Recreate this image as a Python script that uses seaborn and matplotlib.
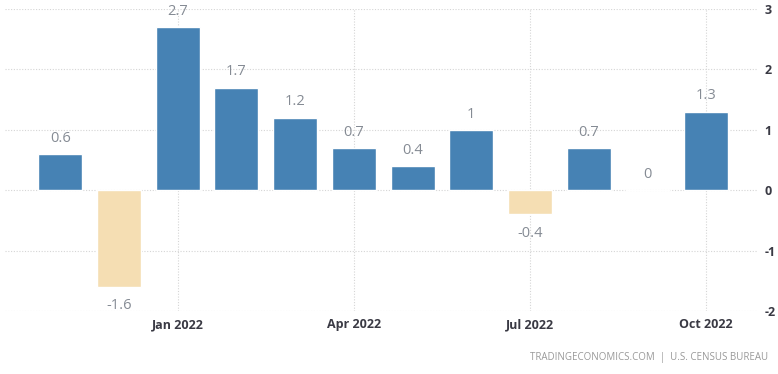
import pandas as pd
import matplotlib.pyplot as plt
import seaborn as sns

# === Monthly change, Nov 2021 - Oct 2022 ===
months = ["Nov 2021", "Dec 2021", "Jan 2022", "Feb 2022", "Mar 2022", "Apr 2022",
          "May 2022", "Jun 2022", "Jul 2022", "Aug 2022", "Sep 2022", "Oct 2022"]
values = [0.6, -1.6, 2.7, 1.7, 1.2, 0.7, 0.4, 1.0, -0.4, 0.7, 0.0, 1.3]
value_labels = ["0.6", "-1.6", "2.7", "1.7", "1.2", "0.7", "0.4", "1", "-0.4", "0.7", "0", "1.3"]
tick_months = ["Jan 2022", "Apr 2022", "Jul 2022", "Oct 2022"]
y_ticks = [-2, -1, 0, 1, 2, 3]

df = pd.DataFrame({"month": months, "value": values})
df["sign"] = ["neg" if v < 0 else "pos" for v in values]

sns.set_theme(style="white")
plt.rcParams["font.family"] = ["Open Sans", "DejaVu Sans"]
plt.rcParams["axes.unicode_minus"] = False

fig = plt.figure(figsize=(7.78, 3.74), dpi=100)
ax = fig.add_axes([0.0064, 0.168, 0.967, 0.808])

sns.barplot(data=df, x="month", y="value", hue="sign",
            palette={"pos": "#4682B4", "neg": "#F5DEB3"},
            dodge=False, width=0.75, legend=False, ax=ax, saturation=1)

# value labels above positive bars, below negative ones
for i, (v, lab) in enumerate(zip(values, value_labels)):
    if v < 0:
        ax.annotate(lab, (i, v), xytext=(0, -8), textcoords="offset points",
                    ha="center", va="top", fontsize=10.5, color="#858b94")
    else:
        ax.annotate(lab, (i, v), xytext=(0, 6), textcoords="offset points",
                    ha="center", va="bottom", fontsize=10.5, color="#858b94")

ax.set_xlim(-0.94, 11.87)
ax.set_ylim(-2, 3)
ax.set_xticks([months.index(m) for m in tick_months])
ax.set_xticklabels(tick_months)
ax.set_yticks(y_ticks)
ax.yaxis.tick_right()
ax.set_xlabel("")
ax.set_ylabel("")
ax.tick_params(axis="both", length=0, labelsize=9, colors="#3a3a44")
ax.tick_params(axis="y", pad=5)
ax.tick_params(axis="x", pad=5)
for lbl in ax.get_xticklabels() + ax.get_yticklabels():
    lbl.set_fontweight("bold")

ax.grid(True, linestyle=(0, (1, 1.5)), color="#d5d5d5", linewidth=0.8)
ax.set_axisbelow(True)
for s in ax.spines.values():
    s.set_visible(False)

fig.text(0.987, 0.045, "TRADINGECONOMICS.COM  |  U.S. CENSUS BUREAU",
         ha="right", va="center", fontsize=7, color="#999999")

plt.savefig("out.png", dpi=100)
